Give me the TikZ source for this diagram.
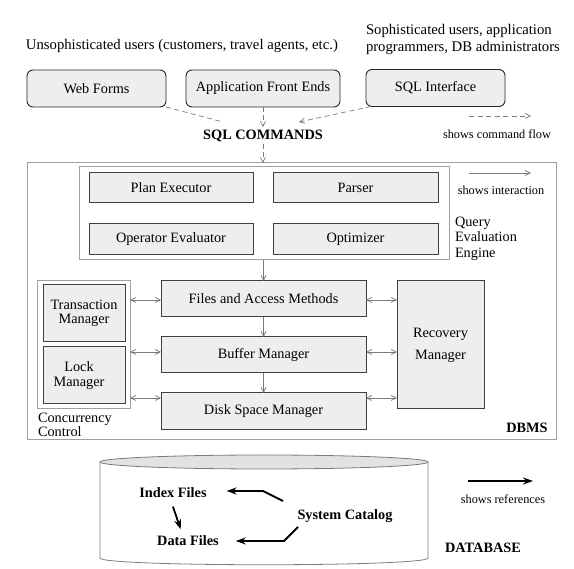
\documentclass[tikz,border=0pt]{standalone}
\usepackage{fontspec}
\setmainfont{Liberation Serif}
\usetikzlibrary{arrows.meta}
\usetikzlibrary{positioning}
\definecolor{boxgray}{HTML}{EEEEEE}
\definecolor{framegray}{HTML}{A0A0A0}
\definecolor{wiregray}{HTML}{7A7A7A}
\definecolor{diskgray}{HTML}{E2E2E2}
\newcommand{\userfont}{\fontsize{14.7}{17}\selectfont}
\newcommand{\boxfont}{\fontsize{14.3}{15.5}\selectfont}
\newcommand{\legendfont}{\fontsize{12.3}{14}\selectfont}
\tikzset{
every node/.style={inner sep=0, outer sep=0, font=\boxfont},
userbox/.style={draw=black!85, fill=boxgray, line width=0.9pt, rounded corners=6pt, minimum width=139, minimum height=37},
module/.style={draw=black!75, fill=boxgray, line width=1pt, minimum width=164, minimum height=31},
frame/.style={draw=framegray, line width=1pt},
cmdflow/.style={draw=wiregray, line width=0.7pt, dash pattern=on 5pt off 3.5pt},
wire/.style={draw=wiregray, line width=0.7pt, -{Straight Barb[length=5pt,width=5pt]}},
twoway/.style={draw=wiregray, line width=0.7pt, {Straight Barb[length=5pt,width=5pt]}-{Straight Barb[length=5pt,width=5pt]}},
refer/.style={line width=1.8pt, -{Stealth[length=10pt,width=7pt]}},
}

\begin{document}
\begin{tikzpicture}[x=1pt,y=-1pt]
\useasboundingbox (0,0) rectangle (574,569);

% users and their front ends
\node[anchor=west, font=\userfont] (naive) at (26,46) {Unsophisticated users (customers, travel agents, etc.)};
\node[anchor=west, align=left, font=\userfont] (expert) at (366,39.5) {Sophisticated users, application\\programmers, DB administrators};

\node[userbox] (wf) at (96.5,88.5) {Web Forms};
\node[userbox, minimum width=154] (afe) at (263,88.5) {Application Front Ends};
\node[userbox] (sqli) at (435.5,88) {SQL Interface};
\node[font=\boxfont\bfseries] (sqlc) at (263,136) {SQL COMMANDS};

\coordinate (wfend) at (223,122);
\coordinate (sqliend) at (299,122);
\draw[cmdflow] (wf.south east) -- (wfend);
\draw[cmdflow, -{Straight Barb[length=5pt,width=5pt]}] (afe.south) -- ([yshift=3pt]sqlc.north);
\draw[cmdflow, -{Straight Barb[length=5pt,width=5pt]}] ([xshift=5pt]sqli.south west) -- (sqliend);

% legend
\coordinate (flowA) at (469,116);
\coordinate (flowB) at (531,116);
\draw[cmdflow, -{Straight Barb[length=5pt,width=5pt]}] (flowA) -- (flowB);
\node[font=\legendfont] (flowtext) at (497,134) {shows command flow};

% the DBMS
\node[frame, minimum width=529, minimum height=277] (dbms) at (291.5,301.5) {};
\node[font=\boxfont\bfseries] (dbmstext) at (527,428) {DBMS};
\draw[cmdflow, -{Straight Barb[length=5pt,width=5pt]}] ([yshift=-2pt]sqlc.south) -- (sqlc.south |- dbms.north);

\coordinate (linkA) at (469,173);
\coordinate (linkB) at (531,173);
\draw[wire] (linkA) -- (linkB);
\node[font=\legendfont] (linktext) at (501,190) {shows interaction};

\node[frame, minimum width=370, minimum height=93] (qee) at (264,213.5) {};
\node[module, minimum height=30] (pe) at (171,188) {Plan Executor};
\node[module, minimum width=165, minimum height=30] (parser) at (355.5,188) {Parser};
\node[module] (oe) at (171,239.5) {Operator Evaluator};
\node[module, minimum width=165] (opt) at (355.5,239.5) {Optimizer};
\node[anchor=west, align=left] (qeetext) at (455,238.5) {Query\\Evaluation\\Engine};

\node[module, minimum width=205, minimum height=36] (fam) at (263.5,299) {Files and Access Methods};
\node[module, minimum width=205, minimum height=36] (bm) at (263.5,355) {Buffer Manager};
\node[module, minimum width=205, minimum height=37] (dsm) at (263.5,411.5) {Disk Space Manager};
\node[module, minimum width=87, minimum height=128, align=center, font=\fontsize{14.3}{22}\selectfont] (rm) at (440.5,345) {Recovery\\Manager};

\node[frame, minimum width=93, minimum height=128] (cc) at (83.5,345) {};
\node[module, minimum width=82, minimum height=57, align=center, font=\fontsize{14.3}{14.5}\selectfont] (tm) at (84,313.5) {Transaction\\Manager};
\node[module, minimum width=82, minimum height=57] (lm) at (84,375.5) {};
\node[align=center, font=\fontsize{14.3}{15}\selectfont] (lmtext) at (79,375.5) {Lock\\Manager};
\node[anchor=west, align=left, font=\fontsize{14.3}{11.5}\selectfont] (cctext) at (38,424.5) {Concurrency\\Control};

\draw[wire] (qee.south -| fam.north) -- (fam.north);
\draw[wire] (fam.south) -- (bm.north);
\draw[wire] (bm.south) -- (dsm.north);
\foreach \m/\y in {fam/300, bm/352, dsm/398}
{
\draw[twoway] (cc.east |- 0,\y) -- (\m.west |- 0,\y);
\draw[twoway] (\m.east |- 0,\y) -- (rm.west |- 0,\y);
}

% the database
\draw[draw=wiregray, fill=white, line width=0.8pt] (100,462) -- (100,558) .. controls (100,567) and (428,567) .. (428,558) -- (428,462);
\draw[draw=wiregray, fill=diskgray, line width=0.8pt] (264,462) ellipse [x radius=164, y radius=7];

\node[font=\boxfont\bfseries] (ixf) at (173,493) {Index Files};
\node[font=\boxfont\bfseries] (dtf) at (188,541) {Data Files};
\node[font=\boxfont\bfseries] (sc) at (345,516) {System Catalog};
\node[font=\boxfont\bfseries] (dbtext) at (483,548) {DATABASE};

\coordinate (scup) at (283,501);
\coordinate (scupbend) at (263,491);
\coordinate (sclow) at (298,527);
\coordinate (sclowbend) at (284,541);
\draw[refer, shorten >=20pt] (scup) -- (scupbend) -- (scupbend -| ixf.east);
\draw[refer, shorten >=17pt] (sclow) -- (sclowbend) -- (sclowbend -| dtf.east);
\draw[refer, shorten <=9pt, shorten >=7pt] ([xshift=-3pt]ixf.south) -- ([xshift=-5pt]dtf.north);

\coordinate (refA) at (468,481);
\coordinate (refB) at (533,481);
\draw[refer] (refA) -- (refB);
\node[font=\legendfont] (reftext) at (503,499) {shows references};
\end{tikzpicture}
\end{document}
